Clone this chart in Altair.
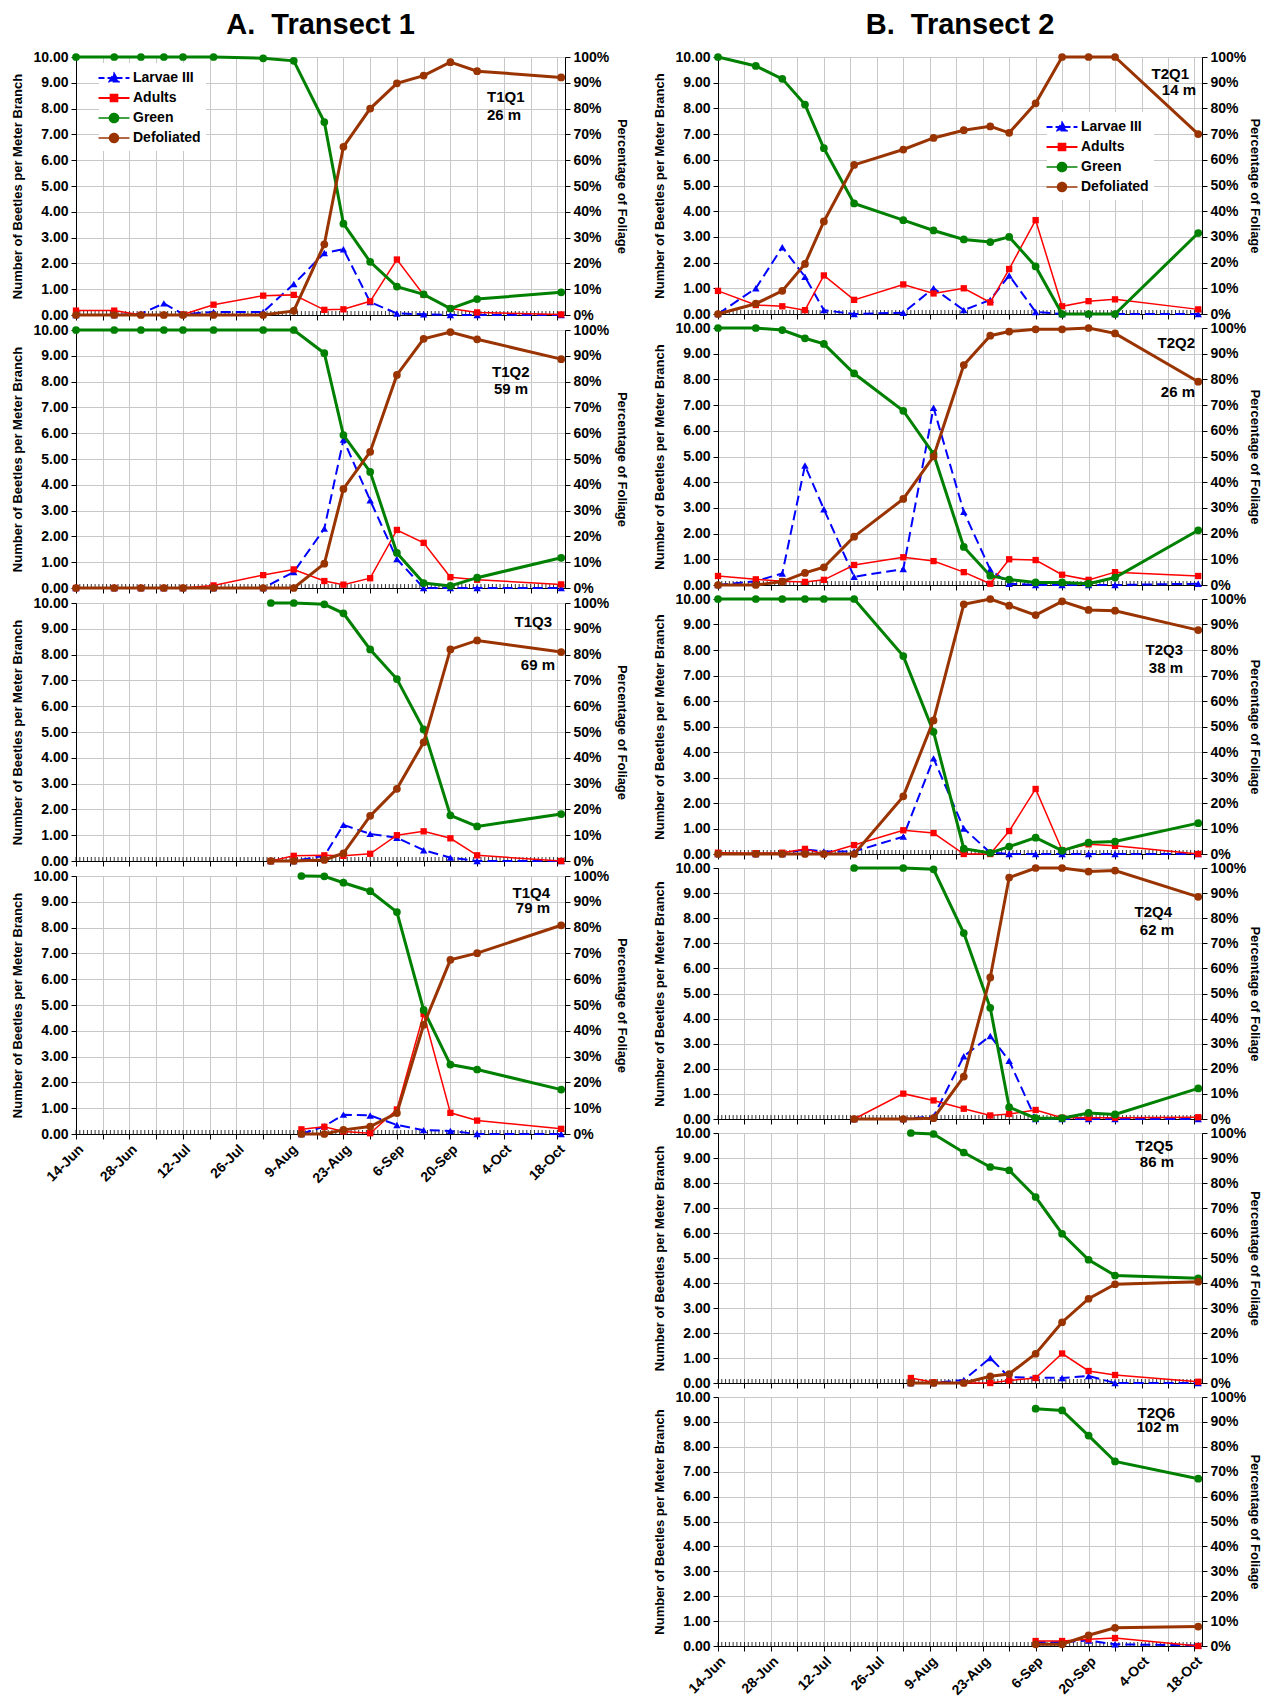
import altair as alt
import pandas as pd

YEAR = 2009
SERIES = ["Larvae III", "Adults", "Green", "Defoliated"]
BLUE, RED, GREEN, BROWN = "#0000FF", "#FF0000", "#008000", "#993300"
COLORS = [BLUE, RED, GREEN, BROWN]

# ---------------- sampling dates (day-month) ----------------
T1_DATES = ["06-14", "06-24", "07-01", "07-07", "07-12", "07-20", "08-02", "08-10",
            "08-18", "08-23", "08-30", "09-06", "09-13", "09-20", "09-27", "10-19"]
T2_DATES = ["06-14", "06-24", "07-01", "07-07", "07-12", "07-20", "08-02", "08-10",
            "08-18", "08-25", "08-30", "09-06", "09-13", "09-20", "09-27", "10-19"]
T1Q3_DATES = ["08-04", "08-10", "08-18", "08-23", "08-30", "09-06", "09-13", "09-20", "09-27", "10-19"]
T1Q4_DATES = ["08-12", "08-18", "08-23", "08-30", "09-06", "09-13", "09-20", "09-27", "10-19"]
T2Q4_DATES = ["07-20", "08-02", "08-10", "08-18", "08-25", "08-30", "09-06", "09-13", "09-20", "09-27", "10-19"]
T2Q5_DATES = ["08-04", "08-10", "08-18", "08-25", "08-30", "09-06", "09-13", "09-20", "09-27", "10-19"]
T2Q6_DATES = ["09-06", "09-13", "09-20", "09-27", "10-19"]

# ---------------- Transect 1 ----------------
T1Q1_LARVAE = [0, 0, 0.05, 0.45, 0.03, 0.12, 0.12, 1.2, 2.4, 2.55, 0.5, 0.06, 0.03, 0, 0, 0]
T1Q1_ADULTS = [0.17, 0.17, 0, 0, 0.02, 0.4, 0.75, 0.78, 0.2, 0.22, 0.53, 2.15, 0.78, 0.25, 0.1, 0.02]
T1Q1_GREEN = [100, 100, 100, 100, 100, 100, 99.5, 98.5, 74.8, 35.4, 20.6, 11, 8, 2.5, 6.2, 8.8]
T1Q1_DEFOL = [0, 0, 0, 0, 0, 0, 0, 1.6, 27.4, 65.2, 80, 89.8, 92.8, 98, 94.5, 92.1]

T1Q2_LARVAE = [0, 0, 0, 0, 0, 0, 0, 0.62, 2.3, 5.75, 3.4, 1.12, 0, 0, 0, 0]
T1Q2_ADULTS = [0, 0, 0, 0, 0, 0.1, 0.5, 0.72, 0.27, 0.13, 0.38, 2.25, 1.75, 0.42, 0.32, 0.14]
T1Q2_GREEN = [100, 100, 100, 100, 100, 100, 100, 100, 91, 59.3, 45, 13.6, 1.9, 0.8, 4, 11.7]
T1Q2_DEFOL = [0, 0, 0, 0, 0, 0, 0, 0, 9.4, 38.4, 52.8, 82.6, 96.6, 99.2, 96.4, 88.7]

T1Q3_LARVAE = [0, 0, 0.2, 1.4, 1.05, 0.9, 0.42, 0.13, 0, 0]
T1Q3_ADULTS = [0, 0.2, 0.22, 0.2, 0.28, 1.0, 1.15, 0.88, 0.22, 0]
T1Q3_GREEN = [100, 100, 99.5, 96, 82, 70.5, 51, 17.7, 13.4, 18.2]
T1Q3_DEFOL = [0, 0, 0.4, 3, 17.5, 28, 46, 82, 85.5, 81]

T1Q4_LARVAE = [0, 0.3, 0.75, 0.72, 0.35, 0.15, 0.12, 0, 0]
T1Q4_ADULTS = [0.18, 0.28, 0.1, 0.03, 0.95, 4.65, 0.82, 0.52, 0.2]
T1Q4_GREEN = [100, 99.9, 97.4, 94.1, 86, 48.1, 26.9, 25, 17.2]
T1Q4_DEFOL = [0, 0, 1.6, 2.9, 8.1, 42.3, 67.5, 70.1, 80.9]

# ---------------- Transect 2 ----------------
T2Q1_LARVAE = [0, 1.0, 2.6, 1.45, 0.15, 0, 0.05, 1.0, 0.15, 0.55, 1.5, 0.08, 0, 0, 0, 0]
T2Q1_ADULTS = [0.9, 0.35, 0.3, 0.15, 1.5, 0.55, 1.15, 0.8, 1.0, 0.45, 1.75, 3.65, 0.3, 0.5, 0.57, 0.18]
T2Q1_GREEN = [100, 96.5, 91.5, 81.5, 64.5, 43, 36.5, 32.5, 29, 28, 30, 18.5, 0, 0, 0, 31.5]
T2Q1_DEFOL = [0, 4, 9, 19.5, 36, 58, 64, 68.5, 71.5, 73, 70.5, 82, 100, 100, 100, 70]

T2Q2_LARVAE = [0, 0.15, 0.45, 4.65, 2.95, 0.32, 0.62, 6.9, 2.85, 0.6, 0.05, 0, 0, 0, 0, 0.05]
T2Q2_ADULTS = [0.35, 0.22, 0.15, 0.12, 0.2, 0.78, 1.08, 0.93, 0.5, 0.05, 1.0, 0.97, 0.4, 0.2, 0.5, 0.35]
T2Q2_GREEN = [100, 100, 99.2, 96, 93.8, 82.3, 67.8, 51, 14.8, 3.6, 2.1, 1, 1, 0.5, 2.9, 21.3]
T2Q2_DEFOL = [0, 0, 1.3, 4.7, 6.9, 18.8, 33.5, 50, 85.6, 97, 98.6, 99.5, 99.5, 100, 97.9, 79.1]

T2Q3_LARVAE = [0, 0, 0, 0.18, 0.1, 0.1, 0.68, 3.75, 1.0, 0.05, 0, 0, 0, 0, 0, 0]
T2Q3_ADULTS = [0.05, 0.03, 0.05, 0.2, 0, 0.35, 0.93, 0.82, 0, 0, 0.9, 2.55, 0.15, 0.38, 0.32, 0]
T2Q3_GREEN = [100, 100, 100, 100, 100, 100, 77.6, 47.9, 2.1, 0.4, 2.9, 6.4, 1.3, 4.5, 4.9, 12.1]
T2Q3_DEFOL = [0, 0, 0, 0, 0, 0, 22.6, 52.4, 97.9, 100, 97.4, 93.7, 99.1, 95.7, 95.4, 87.8]

T2Q4_LARVAE = [0, 0, 0.1, 2.5, 3.31, 2.32, 0, 0, 0, 0, 0]
T2Q4_ADULTS = [0, 1.01, 0.74, 0.41, 0.14, 0.2, 0.36, 0.05, 0.05, 0.05, 0.07]
T2Q4_GREEN = [100, 100, 99.5, 74.1, 44.3, 4.7, 0.3, 0.3, 2.4, 1.8, 12.2]
T2Q4_DEFOL = [0, 0, 0.3, 16.9, 56.4, 96.2, 100, 100, 98.6, 99, 88.5]

T2Q5_LARVAE = [0, 0, 0.12, 1.0, 0.23, 0.22, 0.2, 0.28, 0, 0]
T2Q5_ADULTS = [0.2, 0.03, 0, 0, 0.1, 0.2, 1.18, 0.48, 0.32, 0.05]
T2Q5_GREEN = [100, 99.6, 92.2, 86.4, 85.1, 74.4, 59.7, 49.3, 43, 41.9]
T2Q5_DEFOL = [0, 0, 0, 2.7, 3.6, 11.7, 24.3, 33.7, 39.5, 40.5]

T2Q6_LARVAE = [0.15, 0.15, 0.22, 0.07, 0.02]
T2Q6_ADULTS = [0.2, 0.2, 0.27, 0.32, 0]
T2Q6_GREEN = [95.3, 94.6, 84.5, 74.1, 67.2]
T2Q6_DEFOL = [0.7, 0.7, 4.3, 7.3, 7.8]

# ---------------- helpers ----------------
DAY_MS = 86400000


def iso(md):
    return f"{YEAR}-{md}"


def ms(md):
    return int(pd.Timestamp(iso(md), tz="UTC").timestamp() * 1000)


T_START = ms("06-14")
T_END = ms("10-20")
WEEKS = [T_START + i * 7 * DAY_MS for i in range(19)]
DAYS = pd.date_range(iso("06-14"), iso("10-20"), freq="D").strftime("%Y-%m-%d").tolist()

FONT = "Liberation Sans"
ONE = pd.DataFrame({"a": [0]})

# legend symbols: a line segment with the marker in the middle
PATHS = [
    "M-1.72,0H1.72M0,-0.5L0.5,0.38H-0.5Z",
    "M-1.72,0H1.72M-0.38,-0.38H0.38V0.38H-0.38Z",
    "M-1.72,0H1.72M0.5,0A0.5,0.5,0,1,1,-0.5,0A0.5,0.5,0,1,1,0.5,0Z",
    "M-1.72,0H1.72M0.5,0A0.5,0.5,0,1,1,-0.5,0A0.5,0.5,0,1,1,0.5,0Z",
]


def xenc(bottom):
    return alt.X(
        "date:T", title=None,
        scale=alt.Scale(type="utc", domain=[T_START, T_END], nice=False),
        axis=alt.Axis(
            values=WEEKS, grid=True, labels=bottom, format="%-d-%b",
            labelExpr=f"round((datum.value - {T_START}) / {DAY_MS}) % 14 == 0 ? datum.label : ''",
            labelAngle=-45, labelOverlap=False, tickSize=5, labelPadding=3,
            labelFontSize=14,
        ),
    )


AX_LEFT = alt.Axis(orient="left", values=list(range(11)), format=".2f",
                   title="Number of Beetles per Meter Branch", grid=True,
                   tickSize=5, labelPadding=3, titlePadding=8)


def ax_right(tpad):
    return alt.Axis(orient="right", values=list(range(0, 101, 10)),
                    labelExpr="datum.value + '%'", title="Percentage of Foliage",
                    grid=False, tickSize=5, labelPadding=3, titlePadding=tpad)


def yl(field):
    return alt.Y(f"{field}:Q", scale=alt.Scale(domain=[0, 10], nice=False), axis=AX_LEFT)


def panel(dates, larvae, adults, green, defol, w, h, bottom, ann, tpad,
          legend_xy=None, head=None):
    df = pd.DataFrame({"date": [iso(d) for d in dates], "larvae": larvae,
                       "adults": adults, "green": green, "defol": defol})
    X = xenc(bottom)
    axr = ax_right(tpad)

    def yr(field):
        return alt.Y(f"{field}:Q", scale=alt.Scale(domain=[0, 100], nice=False), axis=axr)

    base = alt.Chart(df)
    left_layers = [
        alt.Chart(pd.DataFrame({"date": DAYS})).mark_rule(color="black", strokeWidth=0.8).encode(
            x=X, y=alt.value(h - 4), y2=alt.value(h)),
        base.mark_line(color=BLUE, strokeWidth=2, strokeDash=[10, 5]).encode(x=X, y=yl("larvae")),
        base.mark_point(filled=True, shape="triangle-up", size=55, color=BLUE, opacity=1).encode(
            x=X, y=yl("larvae")),
        base.mark_line(color=RED, strokeWidth=1.5).encode(x=X, y=yl("adults")),
        base.mark_point(filled=True, shape="square", size=40, color=RED, opacity=1).encode(
            x=X, y=yl("adults")),
    ]
    if legend_xy is not None:
        leg = alt.Legend(orient="none", legendX=legend_xy[0], legendY=legend_xy[1], title=None,
                         fillColor="white", padding=5, labelFont=FONT, labelFontSize=14,
                         labelFontWeight="bold", labelColor="black", symbolSize=324,
                         labelOffset=9, rowPadding=2, symbolOpacity=1)
        ldf = pd.DataFrame({"Series": SERIES, "date": [iso(dates[0])] * 4, "v": [0] * 4})
        left_layers.append(
            alt.Chart(ldf).transform_filter("false").mark_point(filled=True, opacity=1).encode(
                x=X, y=yl("v"),
                fill=alt.Fill("Series:N", scale=alt.Scale(domain=SERIES, range=COLORS), legend=leg),
                stroke=alt.Stroke("Series:N", scale=alt.Scale(domain=SERIES, range=COLORS), legend=leg),
                shape=alt.Shape("Series:N", scale=alt.Scale(domain=SERIES, range=PATHS), legend=leg),
                strokeDash=alt.StrokeDash("Series:N", scale=alt.Scale(
                    domain=SERIES, range=[[6, 3], [1, 0], [1, 0], [1, 0]]), legend=leg),
                strokeWidth=alt.StrokeWidth("Series:N", scale=alt.Scale(
                    domain=SERIES, range=[2, 1.5, 3, 3]), legend=leg),
            )
        )
    left = alt.layer(*left_layers)
    right = alt.layer(
        base.mark_line(color=GREEN, strokeWidth=3).encode(x=X, y=yr("green")),
        base.mark_point(filled=True, shape="circle", size=60, color=GREEN, opacity=1).encode(
            x=X, y=yr("green")),
        base.mark_line(color=BROWN, strokeWidth=3).encode(x=X, y=yr("defol")),
        base.mark_point(filled=True, shape="circle", size=60, color=BROWN, opacity=1).encode(
            x=X, y=yr("defol")),
    )
    texts = []
    for t, px, py, al in ann:
        texts.append(alt.Chart(ONE).mark_text(font=FONT, fontSize=15, fontWeight="bold", color="black",
                                              align=al, baseline="middle").encode(
            x=alt.value(px), y=alt.value(py), text=alt.value(t)))
    if head is not None:
        texts.append(alt.Chart(ONE).mark_text(font=FONT, fontSize=29, fontWeight="bold", color="black",
                                              align="center", baseline="middle").encode(
            x=alt.value(w / 2), y=alt.value(-32), text=alt.value(head)))
    top = alt.layer(*texts)
    return alt.layer(left, right, top).resolve_scale(y="independent").properties(width=w, height=h)


LW, RW = 489, 484
LH = [258, 258, 258, 258]
RH = [257, 257, 255, 251, 250, 249]
LPAD, RPAD = 6, 2

left_panels = [
    panel(T1_DATES, T1Q1_LARVAE, T1Q1_ADULTS, T1Q1_GREEN, T1Q1_DEFOL, LW, LH[0], False,
          [("T1Q1", 411, 40, "left"), ("26 m", 411, 58, "left")], LPAD, legend_xy=(23, 6),
          head="A.\u00a0 Transect 1"),
    panel(T1_DATES, T1Q2_LARVAE, T1Q2_ADULTS, T1Q2_GREEN, T1Q2_DEFOL, LW, LH[1], False,
          [("T1Q2", 416, 42, "left"), ("59 m", 418, 59, "left")], LPAD),
    panel(T1Q3_DATES, T1Q3_LARVAE, T1Q3_ADULTS, T1Q3_GREEN, T1Q3_DEFOL, LW, LH[2], False,
          [("T1Q3", 476, 19, "right"), ("69 m", 479, 62, "right")], LPAD),
    panel(T1Q4_DATES, T1Q4_LARVAE, T1Q4_ADULTS, T1Q4_GREEN, T1Q4_DEFOL, LW, LH[3], True,
          [("T1Q4", 474, 17, "right"), ("79 m", 474, 32, "right")], LPAD),
]
right_panels = [
    panel(T2_DATES, T2Q1_LARVAE, T2Q1_ADULTS, T2Q1_GREEN, T2Q1_DEFOL, RW, RH[0], False,
          [("T2Q1", 471, 17, "right"), ("14 m", 478, 33, "right")], RPAD, legend_xy=(329, 55),
          head="B.\u00a0 Transect 2"),
    panel(T2_DATES, T2Q2_LARVAE, T2Q2_ADULTS, T2Q2_GREEN, T2Q2_DEFOL, RW, RH[1], False,
          [("T2Q2", 477, 15, "right"), ("26 m", 477, 64, "right")], RPAD),
    panel(T2_DATES, T2Q3_LARVAE, T2Q3_ADULTS, T2Q3_GREEN, T2Q3_DEFOL, RW, RH[2], False,
          [("T2Q3", 465, 51, "right"), ("38 m", 465, 69, "right")], RPAD),
    panel(T2Q4_DATES, T2Q4_LARVAE, T2Q4_ADULTS, T2Q4_GREEN, T2Q4_DEFOL, RW, RH[3], False,
          [("T2Q4", 454, 44, "right"), ("62 m", 456, 62, "right")], RPAD),
    panel(T2Q5_DATES, T2Q5_LARVAE, T2Q5_ADULTS, T2Q5_GREEN, T2Q5_DEFOL, RW, RH[4], False,
          [("T2Q5", 455, 13, "right"), ("86 m", 456, 29, "right")], RPAD),
    panel(T2Q6_DATES, T2Q6_LARVAE, T2Q6_ADULTS, T2Q6_GREEN, T2Q6_DEFOL, RW, RH[5], True,
          [("T2Q6", 457, 16, "right"), ("102 m", 461, 30, "right")], RPAD),
]

LEG_CH = dict(fill="independent", stroke="independent", shape="independent",
              strokeDash="independent", strokeWidth="independent")

left_col = alt.vconcat(*left_panels, spacing=15, bounds="flush").resolve_legend(**LEG_CH)
right_col = alt.vconcat(*right_panels, spacing=14, bounds="flush").resolve_legend(**LEG_CH)

# with flush bounds the nested column counts as zero width, so the spacing
# covers the left plot width plus the gap between the two columns
chart = (
    alt.hconcat(left_col, right_col, spacing=LW + 153, bounds="flush")
    .resolve_legend(**LEG_CH)
    .properties(padding={"left": 11, "top": 10, "right": 0, "bottom": 0}, background="white")
    .configure_view(stroke="#808080", strokeWidth=1)
    .configure_axis(labelFont=FONT, labelFontSize=14, labelFontWeight="bold", labelColor="black",
                    titleFont=FONT, titleFontSize=13, titleFontWeight="bold", titleColor="black",
                    domainColor="black", domainWidth=1, tickColor="black",
                    gridColor="#c8c8c8", gridWidth=1)
)

chart.save("out.html", embed_options={"renderer": "svg", "actions": False})
